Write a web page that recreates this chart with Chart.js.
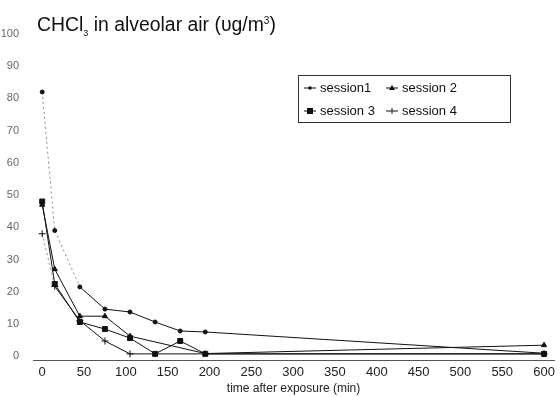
<!DOCTYPE html>
<html>
<head>
<meta charset="utf-8">
<script src="https://cdn.jsdelivr.net/npm/chart.js@4.4.0/dist/chart.umd.min.js"></script>
<style>
  body { margin: 0; background: #fff; }
  #wrap { position: relative; width: 560px; height: 397px; }
  #title { position: absolute; left: 37px; top: 13px; font: 19.4px "Liberation Sans", Arial, sans-serif; color: #111; white-space: nowrap; }
  #legend { position: absolute; left: 298px; top: 75px; width: 207px; height: 46px; border: 1px solid #333;
            display: grid; grid-template-columns: 82px 120px; grid-template-rows: 23px 23px; padding-left: 4px;
            font: 13px "Liberation Sans", Arial, sans-serif; color: #111; }
  #legend div { display: flex; align-items: center; white-space: nowrap; }
  #legend svg { margin-right: 3px; }
</style>
</head>
<body>
<div id="wrap">
  <canvas id="chart" width="560" height="397"></canvas>
  <div id="title">CHCl<sub style="font-size:9px">3</sub> in alveolar air (υg/m<sup style="font-size:10px">3</sup>)</div>
  <div id="legend"></div>
</div>
<script>
// Séries
const seriesNames = ['session1', 'session 2', 'session 3', 'session 4'];
const times1 = [0, 15, 45, 75, 105, 135, 165, 195, 600];
const session1 = [82, 39, 21.5, 14.6, 13.7, 10.6, 7.8, 7.5, 0.9];
const times2 = [0, 15, 45, 75, 105, 195, 600];
const session2 = [47, 27, 12.4, 12.4, 6.2, 0.8, 3.4];
const times3 = [0, 15, 45, 75, 105, 135, 165, 195, 600];
const session3 = [48, 22.4, 10.6, 8.4, 5.6, 0.7, 4.7, 0.7, 0.7];
const times4 = [0, 15, 45, 75, 105, 600];
const session4 = [38, 21.7, 11, 4.7, 0.7, 0.7];
const xTicks = [0, 50, 100, 150, 200, 250, 300, 350, 400, 450, 500, 550, 600];
const yTicks = [0, 10, 20, 30, 40, 50, 60, 70, 80, 90, 100];

const markers = ['circle', 'triangle', 'rect', 'cross'];
const markerSizes = [2, 3, 3.5, 3.5];

function toPoints(xs, ys) {
    return xs.map((x, i) => ({ x: x, y: ys[i] }));
}

const allTimes = [times1, times2, times3, times4];
const allValues = [session1, session2, session3, session4];

// premiers segments très pâles / pointillés sur le scan
function isFaint(i, idx) {
    return (i === 0 && idx < 2) || (i === 3 && idx < 1);
}

const datasets = seriesNames.map((name, i) => ({
    label: name,
    data: toPoints(allTimes[i], allValues[i]),
    borderColor: '#111',
    backgroundColor: '#111',
    borderWidth: 1,
    pointStyle: markers[i],
    pointRadius: markerSizes[i],
    pointBorderWidth: 1,
    tension: 0,
    segment: {
        borderDash: ctx => isFaint(i, ctx.p0DataIndex) ? [2, 3] : undefined,
        borderColor: ctx => isFaint(i, ctx.p0DataIndex) ? '#888' : '#111'
    }
}));

// Légende HTML encadrée
const legend = document.getElementById('legend');
const svgMarks = [
    '<circle cx="7" cy="5" r="1.8" fill="#111"/>',
    '<polygon points="7,2 10,7 4,7" fill="#111"/>',
    '<rect x="4" y="2" width="6" height="6" fill="#111"/>',
    '<line x1="7" y1="2" x2="7" y2="8" stroke="#111" stroke-width="1"/>'
];
seriesNames.forEach((name, i) => {
    const item = document.createElement('div');
    item.innerHTML = '<svg width="14" height="10"><line x1="1" y1="5" x2="13" y2="5" stroke="#111" stroke-width="1"/>' +
        svgMarks[i] + '</svg>' + name;
    legend.appendChild(item);
});

const ctx = document.getElementById('chart').getContext('2d');
const chart = new Chart(ctx, {
    type: 'line',
    data: { datasets: datasets },
    options: {
        responsive: false,
        animation: false,
        layout: { padding: { left: 0, right: 5, top: 34, bottom: 1 } },
        plugins: {
            legend: { display: false },
            tooltip: { enabled: false }
        },
        scales: {
            x: {
                type: 'linear',
                min: -11,
                max: 612,
                afterBuildTicks: scale => { scale.ticks = xTicks.map(v => ({ value: v })); },
                grid: { display: false, drawTicks: false },
                border: { display: true, color: '#555', width: 1 },
                ticks: {
                    padding: 5,
                    maxRotation: 0,
                    autoSkip: false,
                    color: '#222',
                    font: { family: 'Liberation Sans', size: 13 }
                },
                title: {
                    display: true,
                    text: 'time after exposure (min)',
                    color: '#222',
                    padding: { top: -4, bottom: 0 },
                    font: { family: 'Liberation Sans', size: 12 }
                }
            },
            y: {
                type: 'linear',
                min: -1.2,
                max: 100,
                afterBuildTicks: scale => { scale.ticks = yTicks.map(v => ({ value: v })); },
                afterFit: scale => { scale.width = 33; },
                grid: { display: false, drawTicks: false },
                border: { display: false },
                ticks: {
                    padding: 14,
                    color: '#666',
                    font: { family: 'Liberation Sans', size: 11 }
                }
            }
        }
    }
});
</script>
</body>
</html>
